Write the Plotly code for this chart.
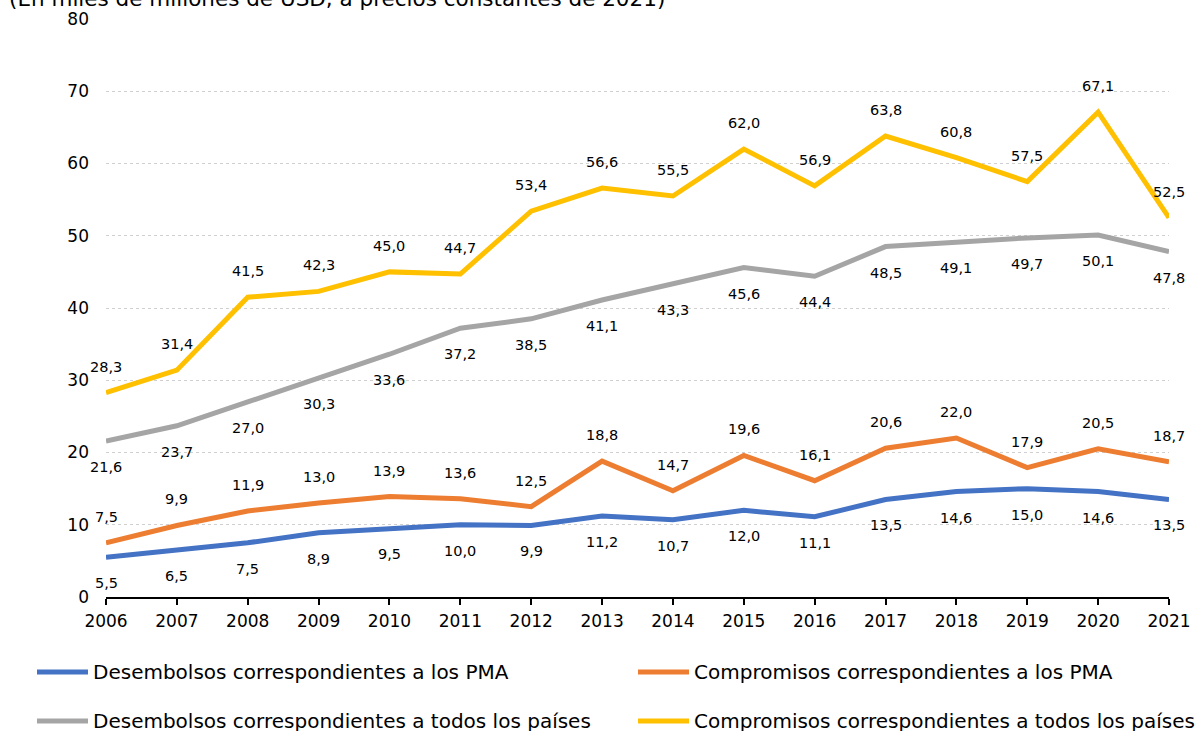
import plotly.graph_objects as go

years = list(range(2006, 2022))
desemb_pma = [5.5, 6.5, 7.5, 8.9, 9.5, 10.0, 9.9, 11.2, 10.7, 12.0, 11.1, 13.5, 14.6, 15.0, 14.6, 13.5]
compr_pma = [7.5, 9.9, 11.9, 13.0, 13.9, 13.6, 12.5, 18.8, 14.7, 19.6, 16.1, 20.6, 22.0, 17.9, 20.5, 18.7]
desemb_todos = [21.6, 23.7, 27.0, 30.3, 33.6, 37.2, 38.5, 41.1, 43.3, 45.6, 44.4, 48.5, 49.1, 49.7, 50.1, 47.8]
compr_todos = [28.3, 31.4, 41.5, 42.3, 45.0, 44.7, 53.4, 56.6, 55.5, 62.0, 56.9, 63.8, 60.8, 57.5, 67.1, 52.5]

names = [
    "Desembolsos correspondientes a los PMA",
    "Compromisos correspondientes a los PMA",
    "Desembolsos correspondientes a todos los países",
    "Compromisos correspondientes a todos los países",
]
colors = ["#4472C4", "#ED7D31", "#A5A5A5", "#FFC000"]
series = [desemb_pma, compr_pma, desemb_todos, compr_todos]
label_side = [-1, 1, -1, 1]  # -1 below, +1 above

FONT = "Verdana, DejaVu Sans, sans-serif"

W, H = 1195, 731
# plot area in window pixels: x 106..1169, y 19..597
L, R, T, B = 106, 1195 - 1169, 19, 731 - 597
PW, PH = W - L - R, H - T - B


def px_x(px):
    return (px - L) / PW


def px_y(py):
    return (H - B - py) / PH


fig = go.Figure()
draw_order = [2, 3, 0, 1]
for i in draw_order:
    fig.add_trace(go.Scatter(
        x=years, y=series[i], mode="lines", name=names[i],
        line=dict(color=colors[i], width=5), showlegend=False,
        hoverinfo="x+y",
    ))

annotations = []
for i, s in enumerate(series):
    for x, v in zip(years, s):
        annotations.append(dict(
            x=x, y=v, xref="x", yref="y", text=f"{v:.1f}".replace(".", ","),
            showarrow=False, yshift=26 * label_side[i],
            font=dict(family=FONT, size=14.5, color="#000000"),
        ))

# title (partly cut at top)
annotations.append(dict(
    x=px_x(7), y=px_y(-1), xref="paper", yref="paper", xanchor="left", yanchor="middle",
    text="(En miles de millones de USD, a precios constantes de 2021)", showarrow=False,
    font=dict(family=FONT, size=21.5, color="#000000"),
))

# manual legend
shapes = []
leg_pos = [(37, 672), (638, 672), (37, 721), (638, 721)]
for i, (lx, ly) in enumerate(leg_pos):
    shapes.append(dict(
        type="line", xref="paper", yref="paper",
        x0=px_x(lx), x1=px_x(lx + 51), y0=px_y(ly), y1=px_y(ly),
        line=dict(color=colors[i], width=5),
    ))
    annotations.append(dict(
        x=px_x(lx + 54), y=px_y(ly), xref="paper", yref="paper",
        xanchor="left", yanchor="middle", text=names[i], showarrow=False,
        font=dict(family=FONT, size=20, color="#000000"),
    ))

fig.update_layout(
    width=W, height=H,
    margin=dict(l=L, r=R, t=T, b=B, autoexpand=False),
    paper_bgcolor="white", plot_bgcolor="white",
    font=dict(family=FONT, size=17, color="#000000"),
    annotations=annotations, shapes=shapes,
    showlegend=False,
)
fig.update_xaxes(
    range=[2006, 2021], tickmode="array", tickvals=years, ticktext=[str(y) for y in years],
    showgrid=False, zeroline=False, showline=True, linecolor="#000000", linewidth=1.5,
    ticks="outside", ticklen=6, tickwidth=1.5, tickcolor="#000000",
    ticklabelstandoff=2, tickfont=dict(family=FONT, size=17),
)
fig.update_yaxes(
    range=[0, 80], dtick=10, tick0=0, showgrid=True, gridcolor="#D0D0D0", griddash="dot",
    gridwidth=1, zeroline=False, showline=False, ticks="", ticklabelstandoff=16,
    tickfont=dict(family=FONT, size=17),
)

fig.write_html(
    "out.html",
    config={"displayModeBar": False},
    post_script="document.body.style.margin='0';document.body.style.overflow='hidden';",
)
